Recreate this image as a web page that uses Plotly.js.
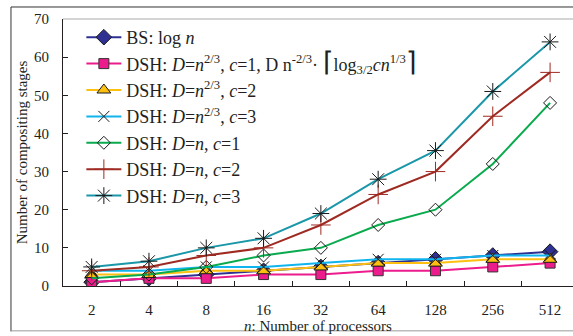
<!DOCTYPE html>
<html>
<head>
<meta charset="utf-8">
<script src="https://cdn.plot.ly/plotly-3.0.1.min.js"></script>
<style>html,body{margin:0;padding:0;background:#fff;}#chart{width:573px;height:336px;}</style>
</head>
<body>
<div id="chart"></div>
<script>
const processors = ['2', '4', '8', '16', '32', '64', '128', '256', '512'];
const bsLog = [1, 2, 3, 4, 5, 6, 7, 8, 9];
const dshN23c1 = [1, 2, 2, 3, 3, 4, 4, 5, 6];
const dshN23c2 = [3, 3, 4, 4, 5, 6, 6, 7, 7];
const dshN23c3 = [4, 4, 5, 5, 6, 7, 7, 8, 8];
const dshNc1 = [2, 3, 5, 8, 10, 16, 20, 32, 48];
const dshNc2 = [4, 5, 8, 10, 16, 24, 30, 44.5, 56];
const dshNc3 = [5, 6.5, 10, 12.5, 19, 28, 35.5, 51, 64];

const names = [
  'BS: log <i>n</i>',
  'DSH: <i>D</i>=<i>n</i><sup>2/3</sup>, <i>c</i>=1, D n<sup>-2/3</sup>· <span style="font-size:27px">⌈</span>log<sub>3/2</sub><i>cn</i><sup>1/3</sup><span style="font-size:27px">⌉</span>',
  'DSH: <i>D</i>=<i>n</i><sup>2/3</sup>, <i>c</i>=2',
  'DSH: <i>D</i>=<i>n</i><sup>2/3</sup>, <i>c</i>=3',
  'DSH: <i>D</i>=<i>n</i>, <i>c</i>=1',
  'DSH: <i>D</i>=<i>n</i>, <i>c</i>=2',
  'DSH: <i>D</i>=<i>n</i>, <i>c</i>=3'
];
const series = [bsLog, dshN23c1, dshN23c2, dshN23c3, dshNc1, dshNc2, dshNc3];
const lineColors = ['#2E3192', '#EC1C8C', '#FDC010', '#10B5EE', '#0AAA4E', '#9E2A22', '#1A97A8'];
const markers = [
  {symbol: 'diamond', size: 12, color: '#2E3192', line: {color: '#1a1a1a', width: 1}},
  {symbol: 'square', size: 10, color: '#EC1C8C', line: {color: '#333', width: 1}},
  {symbol: 'triangle-up', size: 12, color: '#FDC010', line: {color: '#1a1a1a', width: 1}},
  {symbol: 'x-thin', size: 11, color: '#1a1a1a', line: {color: '#1a1a1a', width: 1}},
  {symbol: 'diamond-open', size: 10, color: '#1a1a1a', line: {color: '#1a1a1a', width: 1}},
  {symbol: 'cross-thin', size: 14, color: '#9E2A22', line: {color: '#9E2A22', width: 1}},
  {symbol: 'asterisk', size: 14, color: '#1a1a1a', line: {color: '#1a1a1a', width: 1}}
];

const traces = series.map((vals, i) => ({
  x: processors,
  y: vals,
  name: names[i],
  type: 'scatter',
  mode: 'lines+markers',
  line: {color: lineColors[i], width: 2},
  marker: markers[i]
}));

const font = 'Liberation Serif, Times New Roman, serif';
const layout = {
  width: 573,
  height: 336,
  margin: {l: 63, r: 0, t: 19, b: 50},
  paper_bgcolor: '#fff',
  plot_bgcolor: '#fff',
  font: {family: font, color: '#231F20', size: 15},
  showlegend: true,
  legend: {
    x: 0.036, y: 1.0, xanchor: 'left', yanchor: 'top',
    bgcolor: 'rgba(0,0,0,0)',
    font: {family: font, size: 18, color: '#231F20'},
    itemwidth: 35,
    tracegroupgap: 0
  },
  xaxis: {
    type: 'category',
    range: [-0.5, 8.4],
    showline: true, linecolor: '#231F20', linewidth: 1,
    ticks: 'inside', tickson: 'boundaries', ticklen: 5, tickcolor: '#231F20',
    showgrid: false, zeroline: false,
    tickfont: {family: font, size: 15},
    ticklabelstandoff: 10,
    title: {text: '<i>n</i>: Number of processors', font: {family: font, size: 15}, standoff: 2}
  },
  yaxis: {
    range: [0, 70],
    dtick: 10,
    showline: true, linecolor: '#231F20', linewidth: 1,
    ticks: 'inside', ticklen: 5, tickcolor: '#231F20',
    showgrid: false, zeroline: false,
    tickfont: {family: font, size: 15},
    ticklabelstandoff: 10,
    title: {text: 'Number of compositing stages', font: {family: font, size: 15}, standoff: 2}
  },
  annotations: [{
    x: processors[8], y: bsLog[8], xref: 'x', yref: 'y',
    text: 'BS', showarrow: false, yshift: 19,
    font: {family: font, size: 17, color: '#231F20'}
  }],
  shapes: [
    {type: 'line', xref: 'paper', yref: 'paper', x0: 0, x1: 1, y0: 1, y1: 1, line: {color: '#AAAAAA', width: 1}},
    {type: 'line', xref: 'paper', yref: 'paper', x0: -0.102, x1: -0.102, y0: -0.17, y1: 1.045, line: {color: '#333', width: 1}},
    {type: 'line', xref: 'paper', yref: 'paper', x0: -0.102, x1: 1.01, y0: 1.045, y1: 1.045, line: {color: '#333', width: 1}},
    {type: 'line', xref: 'paper', yref: 'paper', x0: -0.102, x1: 1.01, y0: -0.168, y1: -0.168, line: {color: '#999', width: 1}}
  ]
};

Plotly.newPlot('chart', traces, layout, {displayModeBar: false, staticPlot: true});
</script>
</body>
</html>
